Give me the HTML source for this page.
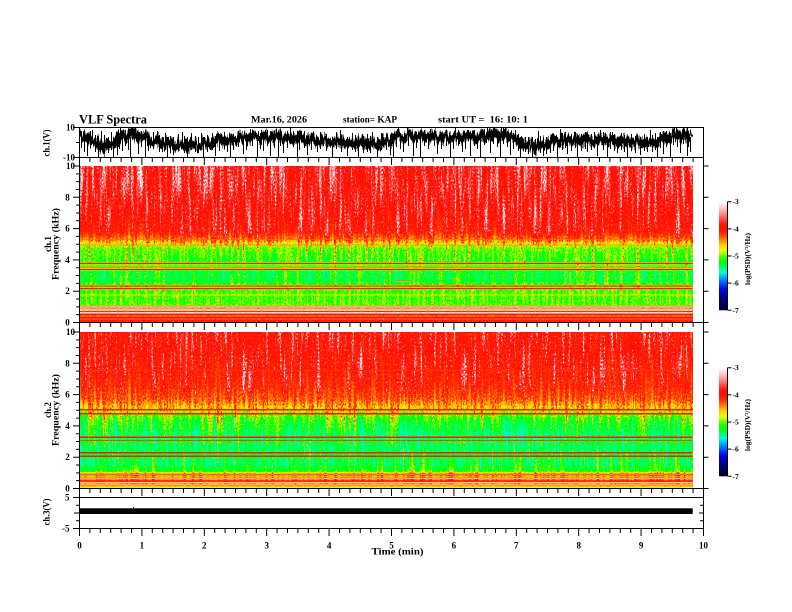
<!DOCTYPE html>
<html>
<head>
<meta charset="utf-8">
<style>
html,body{margin:0;padding:0;background:#fff;}
svg{display:block;}
text{font-family:"Liberation Serif",serif;font-weight:bold;fill:#000;}
</style>
</head>
<body>
<svg width="792" height="612" viewBox="0 0 792 612" xmlns="http://www.w3.org/2000/svg">
<defs>
  <linearGradient id="g1" x1="0" y1="0" x2="0" y2="1">
    <stop offset="0" stop-color="rgb(204,102,0)"/>
    <stop offset="0.20" stop-color="rgb(201,97,0)"/>
    <stop offset="0.30" stop-color="rgb(196,89,0)"/>
    <stop offset="0.42" stop-color="rgb(189,89,0)"/>
    <stop offset="0.47" stop-color="rgb(168,102,0)"/>
    <stop offset="0.50" stop-color="rgb(143,115,0)"/>
    <stop offset="0.53" stop-color="rgb(125,115,0)"/>
    <stop offset="0.60" stop-color="rgb(117,102,0)"/>
    <stop offset="0.64" stop-color="rgb(112,89,0)"/>
    <stop offset="0.67" stop-color="rgb(107,77,0)"/>
    <stop offset="0.74" stop-color="rgb(107,77,0)"/>
    <stop offset="0.76" stop-color="rgb(120,77,0)"/>
    <stop offset="0.89" stop-color="rgb(122,77,0)"/>
    <stop offset="0.895" stop-color="rgb(179,64,0)"/>
    <stop offset="1" stop-color="rgb(179,64,0)"/>
  </linearGradient>
  <linearGradient id="g2" x1="0" y1="0" x2="0" y2="1">
    <stop offset="0" stop-color="rgb(194,97,0)"/>
    <stop offset="0.25" stop-color="rgb(191,97,0)"/>
    <stop offset="0.35" stop-color="rgb(184,97,0)"/>
    <stop offset="0.43" stop-color="rgb(171,102,0)"/>
    <stop offset="0.48" stop-color="rgb(153,107,0)"/>
    <stop offset="0.52" stop-color="rgb(130,112,0)"/>
    <stop offset="0.57" stop-color="rgb(112,102,0)"/>
    <stop offset="0.62" stop-color="rgb(105,80,0)"/>
    <stop offset="0.66" stop-color="rgb(99,80,0)"/>
    <stop offset="0.70" stop-color="rgb(105,80,0)"/>
    <stop offset="0.74" stop-color="rgb(99,80,0)"/>
    <stop offset="0.78" stop-color="rgb(107,80,0)"/>
    <stop offset="0.84" stop-color="rgb(102,80,0)"/>
    <stop offset="0.89" stop-color="rgb(115,64,0)"/>
    <stop offset="0.905" stop-color="rgb(163,64,0)"/>
    <stop offset="1" stop-color="rgb(163,64,0)"/>
  </linearGradient>
  <linearGradient id="cb" x1="0" y1="0" x2="0" y2="1">
    <stop offset="0" stop-color="#ffffff"/>
    <stop offset="0.05" stop-color="#ffd1d1"/>
    <stop offset="0.10" stop-color="#ff9999"/>
    <stop offset="0.15" stop-color="#ff5959"/>
    <stop offset="0.20" stop-color="#ff1a0d"/>
    <stop offset="0.25" stop-color="#ff0d00"/>
    <stop offset="0.30" stop-color="#ff3300"/>
    <stop offset="0.35" stop-color="#ff8000"/>
    <stop offset="0.40" stop-color="#ffcc00"/>
    <stop offset="0.45" stop-color="#e6ff00"/>
    <stop offset="0.50" stop-color="#59ff00"/>
    <stop offset="0.55" stop-color="#00ff00"/>
    <stop offset="0.60" stop-color="#00ff4d"/>
    <stop offset="0.65" stop-color="#00ffe6"/>
    <stop offset="0.70" stop-color="#00a6ff"/>
    <stop offset="0.75" stop-color="#0059ff"/>
    <stop offset="0.80" stop-color="#000df2"/>
    <stop offset="0.85" stop-color="#0000b3"/>
    <stop offset="0.90" stop-color="#000080"/>
    <stop offset="0.95" stop-color="#00004d"/>
    <stop offset="1" stop-color="#000033"/>
  </linearGradient>
  <filter id="sp" x="0" y="0" width="1" height="1" color-interpolation-filters="sRGB">
    <feColorMatrix in="SourceGraphic" type="matrix" values="1 0 0 0 0  1 0 0 0 0  1 0 0 0 0  0 0 0 0 1" result="base"/>
    <feColorMatrix in="SourceGraphic" type="matrix" values="0 1 0 0 0  0 1 0 0 0  0 1 0 0 0  0 0 0 0 1" result="amp"/>
    <feTurbulence type="fractalNoise" baseFrequency="0.35 0.02" numOctaves="2" seed="3" result="t1"/>
    <feColorMatrix in="t1" type="matrix" values="1 0 0 0 0  1 0 0 0 0  1 0 0 0 0  0 0 0 0 1" result="n1"/>
    <feTurbulence type="fractalNoise" baseFrequency="0.9 0.5" numOctaves="1" seed="11" result="t2"/>
    <feColorMatrix in="t2" type="matrix" values="1 0 0 0 0  1 0 0 0 0  1 0 0 0 0  0 0 0 0 1" result="n2"/>
    <feComposite in="n1" in2="n2" operator="arithmetic" k1="0" k2="0.55" k3="0.45" k4="0" result="n0"/>
    <feComponentTransfer in="n0" result="n">
      <feFuncR type="table" tableValues="0.3 0.36 0.42 0.46 0.5 0.6 0.76 0.9 1"/>
      <feFuncG type="table" tableValues="0.3 0.36 0.42 0.46 0.5 0.6 0.76 0.9 1"/>
      <feFuncB type="table" tableValues="0.3 0.36 0.42 0.46 0.5 0.6 0.76 0.9 1"/>
    </feComponentTransfer>
    <feComposite in="amp" in2="n" operator="arithmetic" k1="3" k2="-1.5" k3="0" k4="0.5" result="d"/>
    <feComposite in="base" in2="d" operator="arithmetic" k1="0" k2="1" k3="1" k4="-0.5" result="v"/>
    <feComponentTransfer in="v">
      <feFuncR type="table" tableValues="0 0 0 0 0 0 0 0 0 0 0.35 0.9 1 1 1 1 1 1 1 1 1"/>
      <feFuncG type="table" tableValues="0 0 0 0 0.05 0.35 0.65 1 1 1 1 1 0.8 0.5 0.2 0.05 0.1 0.35 0.6 0.82 1"/>
      <feFuncB type="table" tableValues="0.2 0.3 0.5 0.7 0.95 1 1 0.9 0.3 0 0 0 0 0 0 0 0.05 0.35 0.6 0.82 1"/>
    </feComponentTransfer>
  </filter>
  <filter id="wv" filterUnits="userSpaceOnUse" x="79" y="118" width="625" height="50" color-interpolation-filters="sRGB">
    <feTurbulence type="fractalNoise" baseFrequency="0.7 0.04" numOctaves="2" seed="5" result="t"/>
    <feColorMatrix in="t" type="matrix" values="0 0 0 0 0.5  0 1 0 0 0  0 0 0 0 0  0 0 0 0 1" result="m"/>
    <feDisplacementMap in="SourceGraphic" in2="m" scale="16" xChannelSelector="R" yChannelSelector="G"/>
  </filter>
  <clipPath id="c1"><rect x="80" y="128" width="613" height="29"/></clipPath>
  <path id="xt" fill="none" stroke="#000" stroke-width="1" d="M79.5,0v7M89.9,0v4M100.3,0v4M110.7,0v4M121.1,0v4M131.5,0v4M141.9,0v7M152.3,0v4M162.7,0v4M173.1,0v4M183.5,0v4M193.9,0v4M204.3,0v7M214.7,0v4M225.1,0v4M235.5,0v4M245.9,0v4M256.3,0v4M266.7,0v7M277.1,0v4M287.5,0v4M297.9,0v4M308.3,0v4M318.7,0v4M329.1,0v7M339.5,0v4M349.9,0v4M360.3,0v4M370.7,0v4M381.1,0v4M391.5,0v7M401.9,0v4M412.3,0v4M422.7,0v4M433.1,0v4M443.5,0v4M453.9,0v7M464.3,0v4M474.7,0v4M485.1,0v4M495.5,0v4M505.9,0v4M516.3,0v7M526.7,0v4M537.1,0v4M547.5,0v4M557.9,0v4M568.3,0v4M578.7,0v7M589.1,0v4M599.5,0v4M609.9,0v4M620.3,0v4M630.7,0v4M641.1,0v7M651.5,0v4M661.9,0v4M672.3,0v4M682.7,0v4M693.1,0v4M703.5,0v7"/>
  <path id="yt" fill="none" stroke="#000" stroke-width="1" d="M73,0H79.5M76,7.83H79.5M76,15.65H79.5M76,23.48H79.5M73,31.3H79.5M76,39.13H79.5M76,46.95H79.5M76,54.78H79.5M73,62.6H79.5M76,70.43H79.5M76,78.25H79.5M76,86.08H79.5M73,93.9H79.5M76,101.73H79.5M76,109.55H79.5M76,117.38H79.5M73,125.2H79.5M76,133.03H79.5M76,140.85H79.5M76,148.68H79.5M73,156.5H79.5M703.5,0H708.5M703.5,31.3H708.5M703.5,62.6H708.5M703.5,93.9H708.5M703.5,125.2H708.5M703.5,156.5H708.5"/>
</defs>

<rect x="0" y="0" width="792" height="612" fill="#fff"/>

<!-- Title -->
<text x="79" y="123.5" font-size="12.5" textLength="68" lengthAdjust="spacingAndGlyphs">VLF Spectra</text>
<text x="251" y="122.5" font-size="9" textLength="56" lengthAdjust="spacingAndGlyphs">Mar.16, 2026</text>
<text x="343" y="122.5" font-size="9" textLength="54" lengthAdjust="spacingAndGlyphs">station= KAP</text>
<text x="438" y="122.5" font-size="9" textLength="90" lengthAdjust="spacingAndGlyphs" style="white-space:pre">start UT =  16: 10: 1</text>

<!-- Spectrogram 1 -->
<g filter="url(#sp)">
  <rect x="80" y="166" width="612.7" height="156.5" fill="url(#g1)"/>
  <rect x="80" y="239" width="612.7" height="1" fill="rgb(168,20,0)"/>
  <rect x="80" y="244.5" width="612.7" height="1" fill="rgb(160,20,0)"/>
  <rect x="80" y="262.7" width="612.7" height="1.5" fill="rgb(186,13,0)"/>
  <rect x="80" y="265.8" width="612.7" height="1" fill="rgb(168,13,0)"/>
  <rect x="80" y="268.8" width="612.7" height="1.5" fill="rgb(186,13,0)"/>
  <rect x="396" y="280.2" width="14" height="1" fill="rgb(186,13,0)"/>
  <rect x="80" y="285.3" width="612.7" height="1.5" fill="rgb(186,13,0)"/>
  <rect x="80" y="287.8" width="612.7" height="1.5" fill="rgb(186,13,0)"/>
  <rect x="80" y="294.5" width="612.7" height="1" fill="rgb(150,13,0)"/>
  <rect x="80" y="306" width="612.7" height="1.5" fill="rgb(230,26,0)"/>
  <rect x="80" y="307.5" width="612.7" height="1.5" fill="rgb(158,26,0)"/>
  <rect x="80" y="309" width="612.7" height="2" fill="rgb(237,26,0)"/>
  <rect x="80" y="311" width="612.7" height="1" fill="rgb(179,26,0)"/>
  <rect x="80" y="312" width="612.7" height="1.5" fill="rgb(242,26,0)"/>
  <rect x="80" y="313.5" width="612.7" height="2" fill="rgb(184,26,0)"/>
  <rect x="80" y="315.5" width="612.7" height="1" fill="rgb(158,26,0)"/>
  <rect x="80" y="316.5" width="612.7" height="2" fill="rgb(189,26,0)"/>
  <rect x="80" y="318.5" width="612.7" height="1" fill="rgb(217,26,0)"/>
  <rect x="80" y="319.5" width="612.7" height="3" fill="rgb(184,26,0)"/>
</g>

<!-- Spectrogram 2 -->
<g filter="url(#sp)">
  <rect x="80" y="332" width="612.7" height="156.5" fill="url(#g2)"/>
  <rect x="80" y="370" width="612.7" height="1" fill="rgb(178,13,0)"/>
  <rect x="80" y="409" width="612.7" height="1.5" fill="rgb(186,13,0)"/>
  <rect x="80" y="413" width="612.7" height="1.5" fill="rgb(186,13,0)"/>
  <rect x="80" y="436.5" width="612.7" height="1.5" fill="rgb(186,13,0)"/>
  <rect x="80" y="440" width="612.7" height="1" fill="rgb(175,13,0)"/>
  <rect x="80" y="452" width="612.7" height="1.5" fill="rgb(186,13,0)"/>
  <rect x="80" y="455.5" width="612.7" height="1.5" fill="rgb(186,13,0)"/>
  <rect x="80" y="474" width="612.7" height="1" fill="rgb(217,26,0)"/>
  <rect x="80" y="476" width="612.7" height="1.5" fill="rgb(158,26,0)"/>
  <rect x="80" y="478" width="612.7" height="1" fill="rgb(230,26,0)"/>
  <rect x="80" y="480" width="612.7" height="2" fill="rgb(179,26,0)"/>
  <rect x="80" y="482" width="612.7" height="1" fill="rgb(235,26,0)"/>
  <rect x="80" y="483.5" width="612.7" height="1.5" fill="rgb(153,26,0)"/>
  <rect x="80" y="485" width="612.7" height="1.5" fill="rgb(224,26,0)"/>
  <rect x="80" y="486.5" width="612.7" height="1.5" fill="rgb(140,26,0)"/>
</g>

<!-- ch1 trace -->
<g clip-path="url(#c1)">
  <g filter="url(#wv)">
    <polyline fill="none" stroke="#000" stroke-width="8" stroke-linejoin="round" points="79,137 85,136 91,142 97,142 103,148 109,144 115,143 121,134 127,137 133,132 139,138 145,136 151,142 157,140 163,145 169,142 175,147 181,144 187,147 193,143 199,146 205,142 211,145 217,140 223,143 229,138 235,141 241,137 247,140 253,136 259,139 265,135 271,138 277,134 283,138 289,135 295,140 301,137 307,141 313,138 319,142 325,139 331,143 337,140 343,144 349,141 355,144 361,141 367,146 373,143 379,146 385,140 391,142 397,136 403,139 409,134 415,138 421,135 427,139 433,135 439,139 445,136 451,139 457,136 463,139 469,135 475,139 481,134 487,137 493,132 499,137 505,133 511,139 517,138 523,146 529,144 535,148 541,143 547,145 553,140 559,143 565,138 571,142 577,139 583,143 589,139 595,142 601,138 607,142 613,139 619,143 625,140 631,144 637,140 643,144 649,141 655,143 661,138 667,140 673,134 679,137 685,133 691,137"/>
  </g>
  <path fill="none" stroke="#000" stroke-width="1" d="M87.5,137V156M98.5,137V157M108.5,137V153M113.5,137V157M117.5,137V155M122.5,137V151M130.5,137V157M138.5,137V154M145.5,137V157M162.5,137V152M167.5,137V157M173.5,137V155M187.5,137V157M198.5,137V153M203.5,137V157M215.5,137V156M227.5,137V152M230.5,137V157M243.5,137V154M257.5,137V157M263.5,137V151M270.5,137V156M278.5,137V157M283.5,137V153M297.5,137V157M307.5,137V155M317.5,137V152M332.5,137V157M347.5,137V156M358.5,137V157M363.5,137V153M377.5,137V157M390.5,137V155M393.5,137V157M403.5,137V152M413.5,137V156M420.5,137V157M437.5,137V154M450.5,137V157M462.5,137V152M470.5,137V156M480.5,137V157M490.5,137V153M500.5,137V157M510.5,137V155M520.5,137V157M525.5,137V152M532.5,137V157M543.5,137V156M550.5,137V153M557.5,137V157M567.5,137V154M577.5,137V157M587.5,137V152M597.5,137V156M607.5,137V157M617.5,137V153M627.5,137V157M640.5,137V155M647.5,137V152M657.5,137V157M663.5,137V154M670.5,137V157M680.5,137V153M687.5,137V156M690.5,137V152M92.5,140V130M120.5,138V128M135.5,136V128M157.5,140V131M182.5,142V132M250.5,138V129M290.5,137V128M301.5,138V131M340.5,140V130M372.5,142V132M398.5,137V128M430.5,137V129M455.5,138V128M468.5,137V130M487.5,136V128M495.5,136V129M505.5,135V128M515.5,138V130M538.5,143V131M560.5,140V129M600.5,139V130M612.5,140V132M650.5,140V130M676.5,136V128M684.5,135V129"/>
  <path fill="none" stroke="#000" stroke-width="1" d="M81.5,131V148M84.5,135V152M90.5,131V148M95.5,135V152M101.5,131V150M104.5,135V153M111.5,132V150M119.5,133V149M125.5,130V146M128.5,134V150M141.5,131V147M148.5,134V151M153.5,132V149M159.5,135V152M165.5,133V150M170.5,136V153M178.5,134V151M184.5,136V153M191.5,133V150M195.5,136V152M201.5,133V150M207.5,135V152M212.5,133V150M219.5,134V151M224.5,132V148M233.5,134V150M238.5,131V147M246.5,133V150M252.5,130V146M260.5,133V149M267.5,130V146M274.5,132V148M280.5,130V146M287.5,132V148M293.5,131V147M299.5,133V150M304.5,131V148M311.5,133V150M320.5,132V149M326.5,134V151M336.5,132V149M341.5,135V152M352.5,133V150M355.5,135V152M367.5,134V152M370.5,136V153M381.5,133V150M386.5,134V150M396.5,131V147M400.5,133V149M408.5,130V146M416.5,132V148M424.5,130V146M428.5,133V149M434.5,130V146M441.5,133V149M446.5,130V146M453.5,133V149M458.5,130V146M465.5,133V149M474.5,130V146M477.5,133V149M484.5,129V145M493.5,128V144M497.5,131V147M503.5,128V144M507.5,131V147M513.5,133V149M518.5,134V151M528.5,137V154M535.5,139V155M540.5,136V153M546.5,137V154M553.5,134V151M562.5,133V150M565.5,132V148M571.5,134V151M575.5,132V148M581.5,134V151M585.5,132V149M591.5,134V150M594.5,132V148M603.5,133V150M610.5,132V149M614.5,134V151M621.5,133V150M624.5,135V152M631.5,134V151M635.5,136V153M644.5,134V151M652.5,135V152M655.5,133V150M660.5,132V148M666.5,131V147M673.5,129V145M677.5,131V147M683.5,128V144M688.5,131V147"/>
</g>

<!-- ch3 trace -->
<rect x="80" y="508.3" width="612.7" height="5.7" fill="#000"/>
<rect x="133" y="507" width="1" height="2" fill="#000"/>

<!-- Frames -->
<path fill="none" stroke="#000" stroke-width="1" d="M79.5,127V529M703.5,127V529M79.5,127.5H703.5M79.5,157.5H703.5M79.5,322.5H703.5M79.5,488.5H703.5M79.5,497.5H703.5M79.5,528.5H703.5"/>
<use href="#xt" y="158"/>
<use href="#xt" y="323"/>
<use href="#xt" y="489"/>
<use href="#xt" y="529"/>
<use href="#yt" y="166"/>
<use href="#yt" y="332"/>
<path fill="none" stroke="#000" stroke-width="1" d="M73,127.5H79.5M73,157.5H79.5M76,142.5H79.5M73,497.5H79.5M76,505.25H79.5M74,513H79.5M76,520.75H79.5M73,528.5H79.5M700,505.25H703.5M699,513H703.5M700,520.75H703.5"/>

<!-- y tick labels -->
<g font-size="9">
  <text x="75" y="130.5" text-anchor="end">10</text>
  <text x="75" y="160.5" text-anchor="end">-10</text>
  <text x="70.5" y="169" text-anchor="middle">10</text>
  <text x="67.5" y="200.3" text-anchor="middle">8</text>
  <text x="67.5" y="231.6" text-anchor="middle">6</text>
  <text x="67.5" y="262.9" text-anchor="middle">4</text>
  <text x="67.5" y="294.2" text-anchor="middle">2</text>
  <text x="67.5" y="325.5" text-anchor="middle">0</text>
  <text x="70.5" y="335" text-anchor="middle">10</text>
  <text x="67.5" y="366.3" text-anchor="middle">8</text>
  <text x="67.5" y="397.6" text-anchor="middle">6</text>
  <text x="67.5" y="428.9" text-anchor="middle">4</text>
  <text x="67.5" y="460.2" text-anchor="middle">2</text>
  <text x="67.5" y="491.5" text-anchor="middle">0</text>
  <text x="69.5" y="500.5" text-anchor="end">5</text>
  <text x="69.5" y="531.5" text-anchor="end">-5</text>
</g>

<!-- x tick labels -->
<g font-size="9" text-anchor="middle">
  <text x="79.5" y="548.5">0</text>
  <text x="141.9" y="548.5">1</text>
  <text x="204.3" y="548.5">2</text>
  <text x="266.7" y="548.5">3</text>
  <text x="329.1" y="548.5">4</text>
  <text x="391.5" y="548.5">5</text>
  <text x="453.9" y="548.5">6</text>
  <text x="516.3" y="548.5">7</text>
  <text x="578.7" y="548.5">8</text>
  <text x="641.1" y="548.5">9</text>
  <text x="703.5" y="548.5">10</text>
</g>
<text x="397.5" y="554.5" font-size="9" text-anchor="middle" textLength="52" lengthAdjust="spacingAndGlyphs">Time (min)</text>

<!-- axis titles -->
<text transform="translate(49.5,143) rotate(-90)" font-size="9" text-anchor="middle" textLength="27" lengthAdjust="spacingAndGlyphs">ch.1(V)</text>
<text transform="translate(51,244) rotate(-90)" font-size="9" text-anchor="middle">ch.1</text>
<text transform="translate(58.5,244) rotate(-90)" font-size="9" text-anchor="middle" textLength="72" lengthAdjust="spacingAndGlyphs">Frequency (kHz)</text>
<text transform="translate(51,410) rotate(-90)" font-size="9" text-anchor="middle">ch.2</text>
<text transform="translate(58.5,410) rotate(-90)" font-size="9" text-anchor="middle" textLength="72" lengthAdjust="spacingAndGlyphs">Frequency (kHz)</text>
<text transform="translate(49.5,512) rotate(-90)" font-size="9" text-anchor="middle" textLength="27" lengthAdjust="spacingAndGlyphs">ch.3(V)</text>

<!-- colorbar 1 -->
<rect x="719" y="201.7" width="8.3" height="108.6" fill="url(#cb)"/>
<path fill="none" stroke="#000" stroke-width="1" d="M727.5,201.7V310.3M727.5,201.7H731.5M727.5,228.85H731.5M727.5,256H731.5M727.5,283.15H731.5M727.5,310.3H731.5"/>
<g font-size="7.5">
  <text x="732.5" y="204.2">-3</text>
  <text x="732.5" y="231.35">-4</text>
  <text x="732.5" y="258.5">-5</text>
  <text x="732.5" y="285.65">-6</text>
  <text x="732.5" y="312.8">-7</text>
</g>
<text transform="translate(750,259) rotate(-90)" font-size="7" text-anchor="middle" textLength="52" lengthAdjust="spacingAndGlyphs">log(PSD)(V²/Hz)</text>

<!-- colorbar 2 -->
<rect x="719" y="367.7" width="8.3" height="108.6" fill="url(#cb)"/>
<path fill="none" stroke="#000" stroke-width="1" d="M727.5,367.7V476.3M727.5,367.7H731.5M727.5,394.85H731.5M727.5,422H731.5M727.5,449.15H731.5M727.5,476.3H731.5"/>
<g font-size="7.5">
  <text x="732.5" y="370.2">-3</text>
  <text x="732.5" y="397.35">-4</text>
  <text x="732.5" y="424.5">-5</text>
  <text x="732.5" y="451.65">-6</text>
  <text x="732.5" y="478.8">-7</text>
</g>
<text transform="translate(750,425) rotate(-90)" font-size="7" text-anchor="middle" textLength="52" lengthAdjust="spacingAndGlyphs">log(PSD)(V²/Hz)</text>
</svg>
</body>
</html>
